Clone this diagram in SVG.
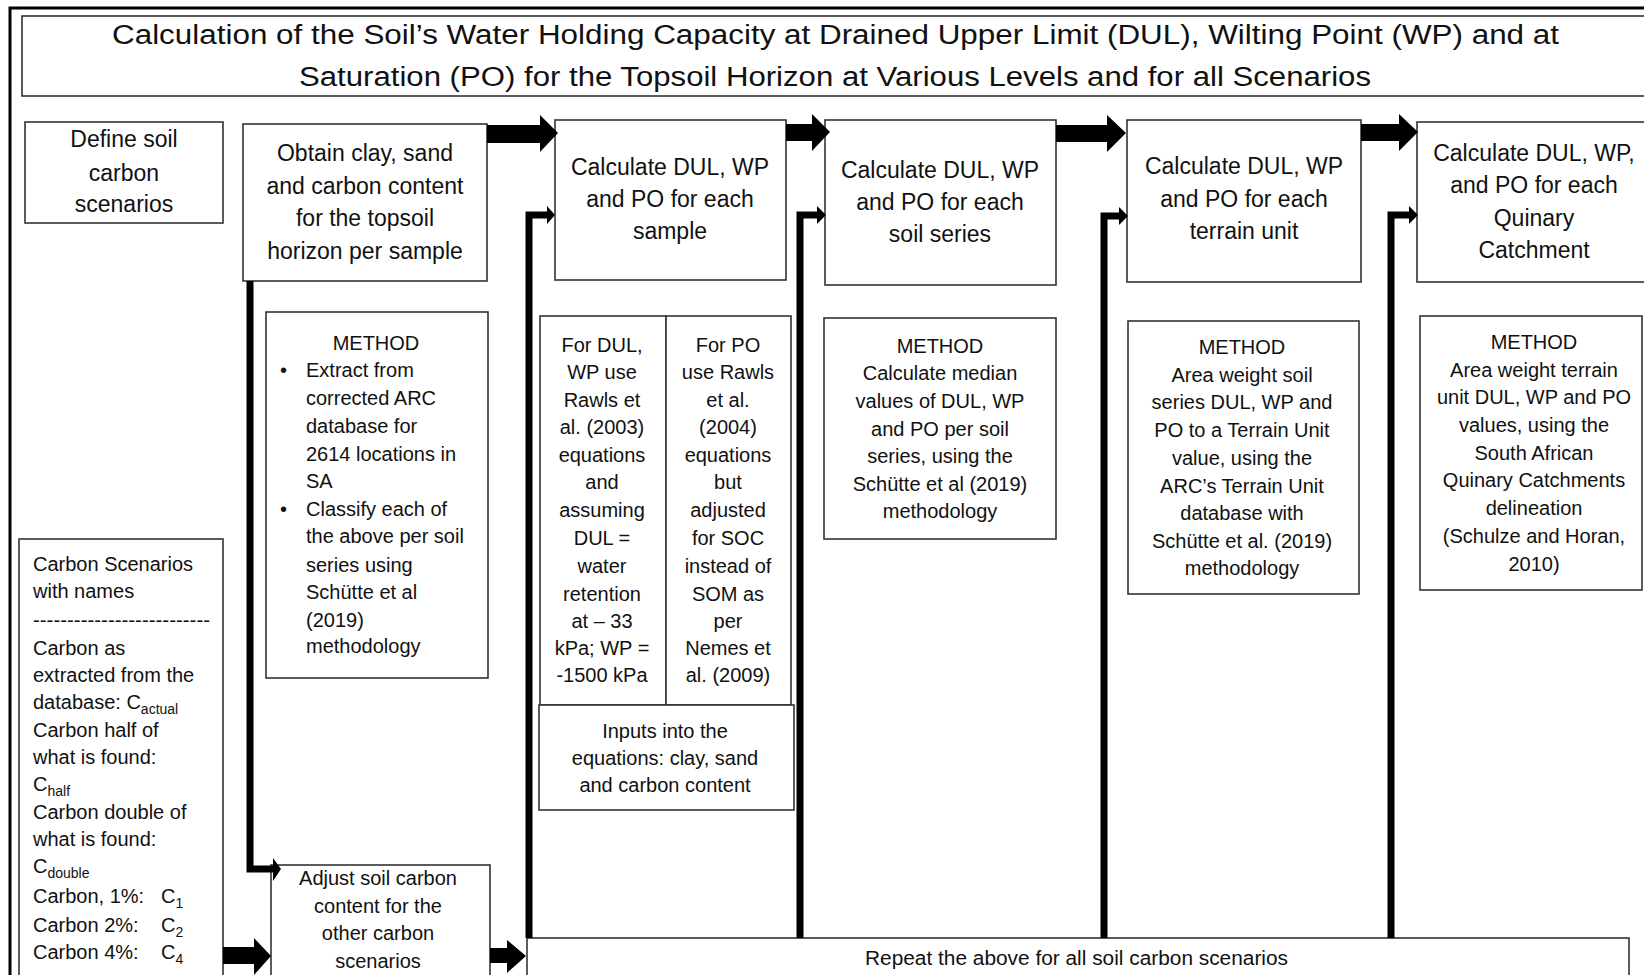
<svg xmlns="http://www.w3.org/2000/svg" width="1644" height="975" viewBox="0 0 1644 975">
<style>
.box{fill:#fff;stroke:#333;stroke-width:1.6}
.t{font-family:"Liberation Sans",Arial,sans-serif;fill:#111}
.big{font-size:23px;text-anchor:middle}
.sm{font-size:20px}
.mid{text-anchor:middle}
.sub{font-size:14px}
.vline{fill:none;stroke:#000;stroke-width:7}
.blk{fill:#000}
</style>
<rect x="0" y="0" width="1644" height="975" fill="#fff"/>
<rect x="10" y="8" width="1700" height="1000" fill="none" stroke="#000" stroke-width="3"/>

<g id="title">
<rect class="box" x="22" y="16" width="1700" height="80" stroke-width="2"/>
<text class="t" x="112" y="44" font-size="27" textLength="1447" lengthAdjust="spacingAndGlyphs">Calculation of the Soil’s Water Holding Capacity at Drained Upper Limit (DUL), Wilting Point (WP) and at</text>
<text class="t" x="299" y="86" font-size="27" textLength="1072" lengthAdjust="spacingAndGlyphs">Saturation (PO) for the Topsoil Horizon at Various Levels and for all Scenarios</text>
</g>

<g id="define">
<rect class="box" x="25" y="122" width="198" height="101"/>
<text class="t big" x="124" y="147">Define soil</text>
<text class="t big" x="124" y="181">carbon</text>
<text class="t big" x="124" y="212">scenarios</text>
</g>

<g id="obtain">
<rect class="box" x="243" y="124" width="244" height="157"/>
<text class="t big" x="365" y="161">Obtain clay, sand</text>
<text class="t big" x="365" y="194">and carbon content</text>
<text class="t big" x="365" y="226">for the topsoil</text>
<text class="t big" x="365" y="259">horizon per sample</text>
</g>

<g id="calc-sample">
<rect class="box" x="555" y="120" width="231" height="160"/>
<text class="t big" x="670" y="175">Calculate DUL, WP</text>
<text class="t big" x="670" y="207">and  PO for each</text>
<text class="t big" x="670" y="239">sample</text>
</g>

<g id="calc-series">
<rect class="box" x="825" y="120" width="231" height="165"/>
<text class="t big" x="940" y="178">Calculate DUL, WP</text>
<text class="t big" x="940" y="210">and  PO for each</text>
<text class="t big" x="940" y="242">soil series</text>
</g>

<g id="calc-terrain">
<rect class="box" x="1127" y="120" width="234" height="162"/>
<text class="t big" x="1244" y="174">Calculate DUL, WP</text>
<text class="t big" x="1244" y="207">and  PO for each</text>
<text class="t big" x="1244" y="239">terrain unit</text>
</g>

<g id="calc-quinary">
<rect class="box" x="1417" y="122" width="300" height="160"/>
<text class="t big" x="1534" y="161">Calculate DUL, WP,</text>
<text class="t big" x="1534" y="193">and PO for each</text>
<text class="t big" x="1534" y="226">Quinary</text>
<text class="t big" x="1534" y="258">Catchment</text>
</g>

<g id="method-obtain">
<rect class="box" x="266" y="312" width="222" height="366"/>
<text class="t sm mid" x="376" y="350">METHOD</text>
<text class="t sm" x="280" y="377">•</text>
<text class="t sm" x="306" y="377">Extract from</text>
<text class="t sm" x="306" y="405">corrected ARC</text>
<text class="t sm" x="306" y="433">database for</text>
<text class="t sm" x="306" y="461">2614 locations in</text>
<text class="t sm" x="306" y="488">SA</text>
<text class="t sm" x="280" y="516">•</text>
<text class="t sm" x="306" y="516">Classify each of</text>
<text class="t sm" x="306" y="543">the above per soil</text>
<text class="t sm" x="306" y="572">series using</text>
<text class="t sm" x="306" y="599">Schütte et al</text>
<text class="t sm" x="306" y="627">(2019)</text>
<text class="t sm" x="306" y="653">methodology</text>
</g>

<g id="method-sample-dul">
<rect class="box" x="540" y="316" width="126" height="389"/>
<text class="t sm mid" x="602" y="352">For DUL,</text>
<text class="t sm mid" x="602" y="379">WP use</text>
<text class="t sm mid" x="602" y="407">Rawls et</text>
<text class="t sm mid" x="602" y="434">al. (2003)</text>
<text class="t sm mid" x="602" y="462">equations</text>
<text class="t sm mid" x="602" y="489">and</text>
<text class="t sm mid" x="602" y="517">assuming</text>
<text class="t sm mid" x="602" y="545">DUL =</text>
<text class="t sm mid" x="602" y="573">water</text>
<text class="t sm mid" x="602" y="601">retention</text>
<text class="t sm mid" x="602" y="628">at – 33</text>
<text class="t sm mid" x="602" y="655">kPa; WP =</text>
<text class="t sm mid" x="602" y="682">-1500 kPa</text>
</g>

<g id="method-sample-po">
<rect class="box" x="666" y="316" width="125" height="389"/>
<text class="t sm mid" x="728" y="352">For PO</text>
<text class="t sm mid" x="728" y="379">use Rawls</text>
<text class="t sm mid" x="728" y="407">et al.</text>
<text class="t sm mid" x="728" y="434">(2004)</text>
<text class="t sm mid" x="728" y="462">equations</text>
<text class="t sm mid" x="728" y="489">but</text>
<text class="t sm mid" x="728" y="517">adjusted</text>
<text class="t sm mid" x="728" y="545">for SOC</text>
<text class="t sm mid" x="728" y="573">instead of</text>
<text class="t sm mid" x="728" y="601">SOM as</text>
<text class="t sm mid" x="728" y="628">per</text>
<text class="t sm mid" x="728" y="655">Nemes et</text>
<text class="t sm mid" x="728" y="682">al. (2009)</text>
</g>

<g id="inputs">
<rect class="box" x="539" y="705" width="255" height="105"/>
<text class="t sm mid" x="665" y="738">Inputs into the</text>
<text class="t sm mid" x="665" y="765">equations: clay, sand</text>
<text class="t sm mid" x="665" y="792">and carbon content</text>
</g>

<g id="method-series">
<rect class="box" x="824" y="318" width="232" height="221"/>
<text class="t sm mid" x="940" y="353">METHOD</text>
<text class="t sm mid" x="940" y="380">Calculate median</text>
<text class="t sm mid" x="940" y="408">values of DUL, WP</text>
<text class="t sm mid" x="940" y="436">and PO per soil</text>
<text class="t sm mid" x="940" y="463">series, using the</text>
<text class="t sm mid" x="940" y="491">Schütte et al (2019)</text>
<text class="t sm mid" x="940" y="518">methodology</text>
</g>

<g id="method-terrain">
<rect class="box" x="1128" y="321" width="231" height="273"/>
<text class="t sm mid" x="1242" y="354">METHOD</text>
<text class="t sm mid" x="1242" y="382">Area weight soil</text>
<text class="t sm mid" x="1242" y="409">series DUL, WP and</text>
<text class="t sm mid" x="1242" y="437">PO to a Terrain Unit</text>
<text class="t sm mid" x="1242" y="465">value, using the</text>
<text class="t sm mid" x="1242" y="493">ARC’s Terrain Unit</text>
<text class="t sm mid" x="1242" y="520">database with</text>
<text class="t sm mid" x="1242" y="548">Schütte et al. (2019)</text>
<text class="t sm mid" x="1242" y="575">methodology</text>
</g>

<g id="method-quinary">
<rect class="box" x="1420" y="316" width="222" height="274"/>
<text class="t sm mid" x="1534" y="349">METHOD</text>
<text class="t sm mid" x="1534" y="377">Area weight terrain</text>
<text class="t sm mid" x="1534" y="404">unit DUL, WP and PO</text>
<text class="t sm mid" x="1534" y="432">values, using the</text>
<text class="t sm mid" x="1534" y="460">South African</text>
<text class="t sm mid" x="1534" y="487">Quinary Catchments</text>
<text class="t sm mid" x="1534" y="515">delineation</text>
<text class="t sm mid" x="1534" y="543">(Schulze and Horan,</text>
<text class="t sm mid" x="1534" y="571">2010)</text>
</g>

<g id="carbon-scenarios">
<rect class="box" x="19" y="539" width="204" height="500"/>
<text class="t sm" x="33" y="571">Carbon Scenarios</text>
<text class="t sm" x="33" y="598">with names</text>
<text class="t sm" x="33" y="627" textLength="177" lengthAdjust="spacingAndGlyphs">--------------------------</text>
<text class="t sm" x="33" y="655">Carbon as</text>
<text class="t sm" x="33" y="682">extracted from the</text>
<text class="t sm" x="33" y="709">database: C<tspan class="sub" dy="5">actual</tspan></text>
<text class="t sm" x="33" y="737">Carbon half of</text>
<text class="t sm" x="33" y="764">what is found:</text>
<text class="t sm" x="33" y="791">C<tspan class="sub" dy="5">half</tspan></text>
<text class="t sm" x="33" y="819">Carbon double of</text>
<text class="t sm" x="33" y="846">what is found:</text>
<text class="t sm" x="33" y="873">C<tspan class="sub" dy="5">double</tspan></text>
<text class="t sm" x="33" y="903">Carbon, 1%:</text>
<text class="t sm" x="161" y="903">C<tspan class="sub" dy="5">1</tspan></text>
<text class="t sm" x="33" y="932">Carbon 2%:</text>
<text class="t sm" x="161" y="932">C<tspan class="sub" dy="5">2</tspan></text>
<text class="t sm" x="33" y="959">Carbon 4%:</text>
<text class="t sm" x="161" y="959">C<tspan class="sub" dy="5">4</tspan></text>
</g>

<g id="adjust">
<rect class="box" x="271" y="865" width="219" height="200"/>
<text class="t sm mid" x="378" y="885">Adjust soil carbon</text>
<text class="t sm mid" x="378" y="913">content for the</text>
<text class="t sm mid" x="378" y="940">other carbon</text>
<text class="t sm mid" x="378" y="968">scenarios</text>
</g>

<g id="repeat">
<rect class="box" x="527" y="938" width="1102" height="80"/>
<text class="t sm" x="865" y="965" textLength="423" lengthAdjust="spacingAndGlyphs">Repeat the above for all soil carbon scenarios</text>
</g>

<g id="connectors">
<polygon class="blk" points="487,125 540,125 540,115 558,133 540,152 540,143 487,143"/>
<polygon class="blk" points="786,124 812,124 812,114 830,132 812,151 812,141 786,141"/>
<polygon class="blk" points="1056,125 1107,125 1107,115 1126,133 1107,152 1107,142 1056,142"/>
<polygon class="blk" points="1361,124 1399,124 1399,114 1418,132 1399,151 1399,141 1361,141"/>
<polygon class="blk" points="223,947 254,947 254,938 271,956 254,975 254,964 223,964"/>
<polygon class="blk" points="490,948 507,948 507,940 526,956 507,973 507,963 490,963"/>
<polyline class="vline" points="250,281 250,869 274,869"/>
<polygon class="blk" points="273,858 281,869 273,881"/>
<polyline class="vline" points="529,938 529,215 548,215"/>
<polygon class="blk" points="547,206 555,215 547,224"/>
<polyline class="vline" points="800,938 800,215 818,215"/>
<polygon class="blk" points="817,206 826,215 817,224"/>
<polyline class="vline" points="1104,938 1104,216 1120,216"/>
<polygon class="blk" points="1119,207 1128,216 1119,225"/>
<polyline class="vline" points="1391,938 1391,215 1410,215"/>
<polygon class="blk" points="1409,206 1418,215 1409,224"/>
</g>
</svg>
